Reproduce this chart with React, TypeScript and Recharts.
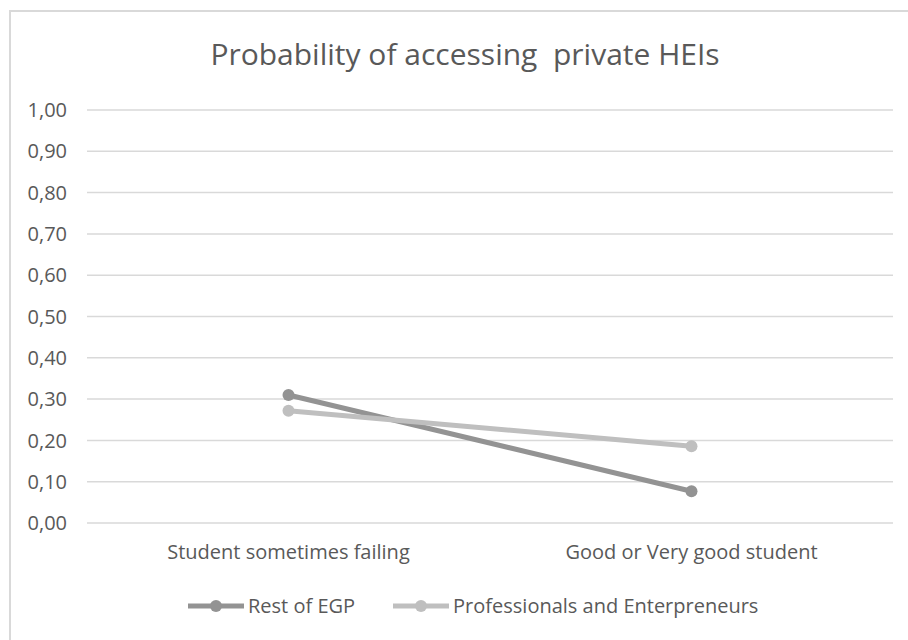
import { LineChart, Line, XAxis, YAxis, CartesianGrid } from "recharts";

// ─── Data ──────────────────────────────────────────────────────────────────

const CATEGORIES = ["Student sometimes failing", "Good or Very good student"];
const REST_OF_EGP = [0.31, 0.077];
const PROFESSIONALS = [0.272, 0.186];
const Y_TICKS = [0, 0.1, 0.2, 0.3, 0.4, 0.5, 0.6, 0.7, 0.8, 0.9, 1];

const SERIES = [
  { key: "rest", name: "Rest of EGP", color: "#939393" },
  { key: "prof", name: "Professionals and Enterpreneurs", color: "#bfbfbf" },
];

const data = CATEGORIES.map((category, i) => ({
  category,
  rest: REST_OF_EGP[i],
  prof: PROFESSIONALS[i],
}));

const FONT = "'Open Sans', sans-serif";
const TEXT = "#595959";

function LegendRow() {
  return (
    <div
      style={{
        position: "absolute",
        left: 188,
        top: 592,
        display: "flex",
        alignItems: "center",
        gap: 38,
        fontFamily: FONT,
        fontSize: 20,
        color: TEXT,
      }}
    >
      {SERIES.map((s) => (
        <div key={s.key} style={{ display: "flex", alignItems: "center", gap: 4 }}>
          <svg width={56} height={14}>
            <line x1={0} y1={7} x2={56} y2={7} stroke={s.color} strokeWidth={5} strokeLinecap="round" />
            <circle cx={28} cy={7} r={6} fill={s.color} />
          </svg>
          <span>{s.name}</span>
        </div>
      ))}
    </div>
  );
}

export default function App() {
  return (
    <div
      style={{
        position: "absolute",
        left: 0,
        top: 0,
        width: 908,
        height: 640,
        overflow: "hidden",
        background: "#fff",
      }}
    >
      <div
        style={{
          position: "absolute",
          left: 9,
          top: 10,
          width: 1000,
          height: 1000,
          border: "2px solid #d9d9d9",
        }}
      />
      <div
        style={{
          position: "absolute",
          left: 0,
          top: 33,
          width: 930,
          textAlign: "center",
          fontFamily: FONT,
          fontSize: 30,
          color: TEXT,
          whiteSpace: "pre",
        }}
      >
        Probability of accessing  private HEIs
      </div>
      <LineChart
        width={908}
        height={640}
        data={data}
        margin={{ top: 110, right: 15, bottom: 77, left: 0 }}
      >
        <CartesianGrid horizontal vertical={false} stroke="#d9d9d9" strokeWidth={1.5} />
        <XAxis
          dataKey="category"
          axisLine={false}
          tickLine={false}
          tickSize={0}
          tickMargin={22}
          height={40}
          interval={0}
          padding={{ left: 201.5, right: 201.5 }}
          tick={{ fontSize: 20, fill: TEXT, fontFamily: FONT }}
        />
        <YAxis
          domain={[0, 1]}
          ticks={Y_TICKS}
          width={87}
          axisLine={false}
          tickLine={false}
          tickSize={0}
          tickMargin={20}
          tickFormatter={(v: number) => v.toFixed(2).replace(".", ",")}
          tick={{ fontSize: 20, fill: TEXT, fontFamily: FONT }}
        />
        {SERIES.map((s) => (
          <Line
            key={s.key}
            dataKey={s.key}
            name={s.name}
            stroke={s.color}
            strokeWidth={5}
            dot={{ r: 6, fill: s.color, stroke: s.color, strokeWidth: 0 }}
            isAnimationActive={false}
          />
        ))}
      </LineChart>
      <LegendRow />
    </div>
  );
}
